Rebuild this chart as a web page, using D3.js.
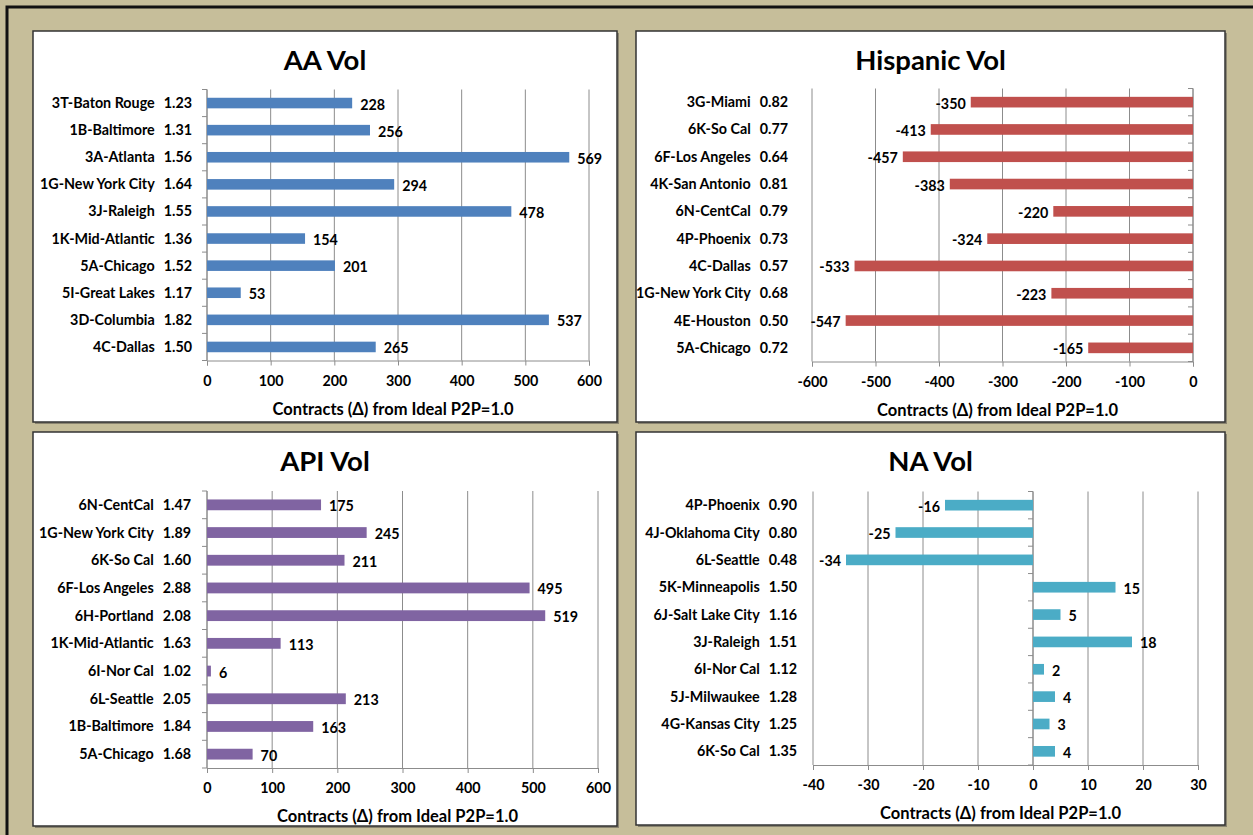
<!DOCTYPE html>
<html>
<head>
<meta charset="utf-8">
<script src="https://cdn.jsdelivr.net/npm/d3@7"></script>
<style>
  html, body { margin: 0; padding: 0; background: #C6BE9A; }
  svg { display: block; font-family: Lato, "Open Sans", sans-serif; }
</style>
</head>
<body>
<svg id="chart" width="1253" height="835"></svg>
<script>
// ---- AA volume ----
const aaCategories = ["3T-Baton Rouge", "1B-Baltimore", "3A-Atlanta", "1G-New York City", "3J-Raleigh",
  "1K-Mid-Atlantic", "5A-Chicago", "5I-Great Lakes", "3D-Columbia", "4C-Dallas"];
const aaRatios = ["1.23", "1.31", "1.56", "1.64", "1.55", "1.36", "1.52", "1.17", "1.82", "1.50"];
const aaValues = [228, 256, 569, 294, 478, 154, 201, 53, 537, 265];
const aaTicks = [0, 100, 200, 300, 400, 500, 600];

// ---- Hispanic volume ----
const hispCategories = ["3G-Miami", "6K-So Cal", "6F-Los Angeles", "4K-San Antonio", "6N-CentCal",
  "4P-Phoenix", "4C-Dallas", "1G-New York City", "4E-Houston", "5A-Chicago"];
const hispRatios = ["0.82", "0.77", "0.64", "0.81", "0.79", "0.73", "0.57", "0.68", "0.50", "0.72"];
const hispValues = [-350, -413, -457, -383, -220, -324, -533, -223, -547, -165];
const hispTicks = [-600, -500, -400, -300, -200, -100, 0];

// ---- API volume ----
const apiCategories = ["6N-CentCal", "1G-New York City", "6K-So Cal", "6F-Los Angeles", "6H-Portland",
  "1K-Mid-Atlantic", "6I-Nor Cal", "6L-Seattle", "1B-Baltimore", "5A-Chicago"];
const apiRatios = ["1.47", "1.89", "1.60", "2.88", "2.08", "1.63", "1.02", "2.05", "1.84", "1.68"];
const apiValues = [175, 245, 211, 495, 519, 113, 6, 213, 163, 70];
const apiTicks = [0, 100, 200, 300, 400, 500, 600];

// ---- NA volume ----
const naCategories = ["4P-Phoenix", "4J-Oklahoma City", "6L-Seattle", "5K-Minneapolis", "6J-Salt Lake City",
  "3J-Raleigh", "6I-Nor Cal", "5J-Milwaukee", "4G-Kansas City", "6K-So Cal"];
const naRatios = ["0.90", "0.80", "0.48", "1.50", "1.16", "1.51", "1.12", "1.28", "1.25", "1.35"];
const naValues = [-16, -25, -34, 15, 5, 18, 2, 4, 3, 4];
const naTicks = [-40, -30, -20, -10, 0, 10, 20, 30];

const axisTitle = "Contracts (\u0394) from Ideal P2P=1.0";

const panels = [
  { title: "AA Vol", cats: aaCategories, ratios: aaRatios, vals: aaValues, ticks: aaTicks, color: "#4F81BD",
    box: [33, 31, 584, 391], plot: [207, 589, 89.5, 360.5], labelX: 192 },
  { title: "Hispanic Vol", cats: hispCategories, ratios: hispRatios, vals: hispValues, ticks: hispTicks, color: "#C0504D",
    box: [636, 31, 589, 391], plot: [812, 1193, 88.5, 361.5], labelX: 788 },
  { title: "API Vol", cats: apiCategories, ratios: apiRatios, vals: apiValues, ticks: apiTicks, color: "#8064A2",
    box: [33, 432, 584, 394], plot: [207, 598, 491, 768], labelX: 191 },
  { title: "NA Vol", cats: naCategories, ratios: naRatios, vals: naValues, ticks: naTicks, color: "#4BACC6",
    box: [636, 432, 589, 393], plot: [813, 1198, 491.5, 765], labelX: 797 }
];

const FS = 14.3;

const svg = d3.select("#chart");

// outer frame (top and left edges)
svg.append("path")
  .attr("d", "M7,835 V7 H1253")
  .attr("fill", "none").attr("stroke", "#111").attr("stroke-width", 3);

panels.forEach(p => {
  const [bx, by, bw, bh] = p.box;
  const [px0, px1, py0, py1] = p.plot;
  const g = svg.append("g");

  // panel frame with a soft shadow
  g.append("rect").attr("x", bx + 2).attr("y", by + 2).attr("width", bw).attr("height", bh)
    .attr("fill", "#8a8470");
  g.append("rect").attr("x", bx).attr("y", by).attr("width", bw).attr("height", bh)
    .attr("fill", "#fff").attr("stroke", "#333").attr("stroke-width", 1.5);

  const x = d3.scaleLinear().domain(d3.extent(p.ticks)).range([px0, px1]);
  const y = d3.scaleBand().domain(p.cats).range([py0, py1]).paddingInner(0).paddingOuter(0);
  const step = y.step();
  const barH = step * 0.39;

  // vertical gridlines
  g.append("g").selectAll("line").data(p.ticks).join("line")
    .attr("x1", d => x(d)).attr("x2", d => x(d))
    .attr("y1", py0).attr("y2", py1)
    .attr("stroke", "#8C8C8C").attr("stroke-width", 1);

  // value axis
  const xAxis = g.append("g").attr("transform", `translate(0,${py1})`)
    .call(d3.axisBottom(x).tickValues(p.ticks).tickSize(5).tickPadding(10).tickFormat(d => String(d)));
  xAxis.select(".domain").attr("stroke", "#8C8C8C");
  xAxis.selectAll(".tick line").attr("stroke", "#8C8C8C");
  xAxis.selectAll(".tick text").attr("font-family", "Lato, sans-serif")
    .attr("font-size", FS).attr("font-weight", "bold").attr("fill", "#000");

  // category axis sits at zero
  const x0 = x(0);
  g.append("line").attr("x1", x0).attr("x2", x0).attr("y1", py0).attr("y2", py1)
    .attr("stroke", "#8C8C8C").attr("stroke-width", 1);
  g.append("g").selectAll("line").data(d3.range(p.cats.length + 1)).join("line")
    .attr("x1", x0 - 5).attr("x2", x0)
    .attr("y1", i => py0 + i * step).attr("y2", i => py0 + i * step)
    .attr("stroke", "#8C8C8C").attr("stroke-width", 1);

  // bars
  g.append("g").selectAll("rect").data(p.vals).join("rect")
    .attr("x", d => Math.min(x(d), x0))
    .attr("y", (d, i) => y(p.cats[i]) + (step - barH) / 2)
    .attr("width", d => Math.abs(x(d) - x0))
    .attr("height", barH)
    .attr("fill", p.color);

  // value labels
  g.append("g").selectAll("text").data(p.vals).join("text")
    .attr("x", d => d >= 0 ? x(d) + 8 : x(d) - 5)
    .attr("y", (d, i) => y(p.cats[i]) + step / 2 + 1.5)
    .attr("dy", "0.35em")
    .attr("text-anchor", d => d >= 0 ? "start" : "end")
    .attr("font-size", FS).attr("font-weight", "bold").attr("fill", "#000")
    .text(d => d);

  // category labels with ratio
  const lbl = g.append("g").selectAll("text").data(p.cats).join("text")
    .attr("x", p.labelX)
    .attr("y", d => y(d) + step / 2)
    .attr("dy", "0.35em")
    .attr("text-anchor", "end")
    .attr("font-size", FS).attr("font-weight", "bold").attr("fill", "#000");
  lbl.append("tspan").text(d => d);
  lbl.append("tspan").attr("dx", 9).text((d, i) => p.ratios[i]);

  // panel title
  g.append("text")
    .attr("x", bx + bw / 2).attr("y", by + 39)
    .attr("text-anchor", "middle")
    .attr("font-size", 27.5).attr("font-weight", "bold").attr("fill", "#000")
    .text(p.title);

  // value axis title
  g.append("text")
    .attr("x", (px0 + px1) / 2 - 5).attr("y", py1 + 54)
    .attr("text-anchor", "middle")
    .attr("font-size", 16.5).attr("font-weight", "bold").attr("fill", "#000")
    .text(axisTitle);
});
</script>
</body>
</html>
